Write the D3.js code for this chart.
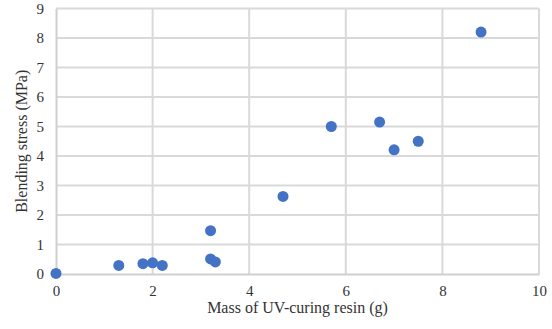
<!DOCTYPE html>
<html>
<head>
<meta charset="utf-8">
<script src="https://cdn.jsdelivr.net/npm/d3@7"></script>
<style>
  body { margin: 0; background: #fff; }
  text { font-family: "Liberation Serif", "Times New Roman", serif; fill: #333; }
</style>
</head>
<body>
<script>
// Mass of UV-curing resin (g) vs blending stress (MPa)
const mass = [0, 1.3, 1.8, 2.0, 2.2, 3.2, 3.2, 3.3, 4.7, 5.7, 6.7, 7.0, 7.5, 8.8];
const stress = [0.02, 0.29, 0.35, 0.38, 0.29, 1.47, 0.51, 0.41, 2.63, 5.0, 5.15, 4.21, 4.5, 8.2];
const xTicks = [0, 2, 4, 6, 8, 10];
const yTicks = [0, 1, 2, 3, 4, 5, 6, 7, 8, 9];

const width = 552;
const height = 329;
const margin = { top: 8.5, right: 13, bottom: 55, left: 56 };

const x = d3.scaleLinear().domain([0, 10]).range([margin.left, width - margin.right]);
const y = d3.scaleLinear().domain([0, 9]).range([height - margin.bottom, margin.top]);

const svg = d3.select("body")
  .append("svg")
  .attr("width", width)
  .attr("height", height);

// gridlines
svg.append("g")
  .selectAll("line")
  .data(yTicks.slice(1))
  .join("line")
  .attr("x1", x(0))
  .attr("x2", x(10))
  .attr("y1", d => y(d))
  .attr("y2", d => y(d))
  .attr("stroke", "#d9d9d9")
  .attr("stroke-width", 2);

svg.append("g")
  .selectAll("line")
  .data(xTicks.slice(1))
  .join("line")
  .attr("x1", d => x(d))
  .attr("x2", d => x(d))
  .attr("y1", y(0))
  .attr("y2", y(9))
  .attr("stroke", "#d9d9d9")
  .attr("stroke-width", 2);

// axes
const xAxis = svg.append("g")
  .attr("transform", `translate(0,${y(0)})`)
  .call(d3.axisBottom(x).tickValues(xTicks).tickSize(0).tickPadding(11));
xAxis.select(".domain").attr("stroke", "#cfcfcf").attr("stroke-width", 2);
xAxis.selectAll("text").attr("font-size", 15).style("font-family", "Liberation Serif").attr("fill", "#333");

const yAxis = svg.append("g")
  .attr("transform", `translate(${x(0)},0)`)
  .call(d3.axisLeft(y).tickValues(yTicks).tickSize(0).tickPadding(12));
yAxis.select(".domain").attr("stroke", "#cfcfcf").attr("stroke-width", 2);
yAxis.selectAll("text").attr("font-size", 15).style("font-family", "Liberation Serif").attr("fill", "#333");

// points
svg.append("g")
  .selectAll("circle")
  .data(mass.map((m, i) => [m, stress[i]]))
  .join("circle")
  .attr("cx", d => x(d[0]))
  .attr("cy", d => y(d[1]))
  .attr("r", 5.5)
  .attr("fill", "#4472c4");

// axis titles
svg.append("text")
  .attr("x", (x(0) + x(10)) / 2)
  .attr("y", 313)
  .attr("text-anchor", "middle")
  .attr("font-size", 16)
  .text("Mass of UV-curing resin (g)");

svg.append("text")
  .attr("transform", `translate(27,${(y(0) + y(9)) / 2}) rotate(-90)`)
  .attr("text-anchor", "middle")
  .attr("font-size", 16)
  .text("Blending stress (MPa)");
</script>
</body>
</html>
